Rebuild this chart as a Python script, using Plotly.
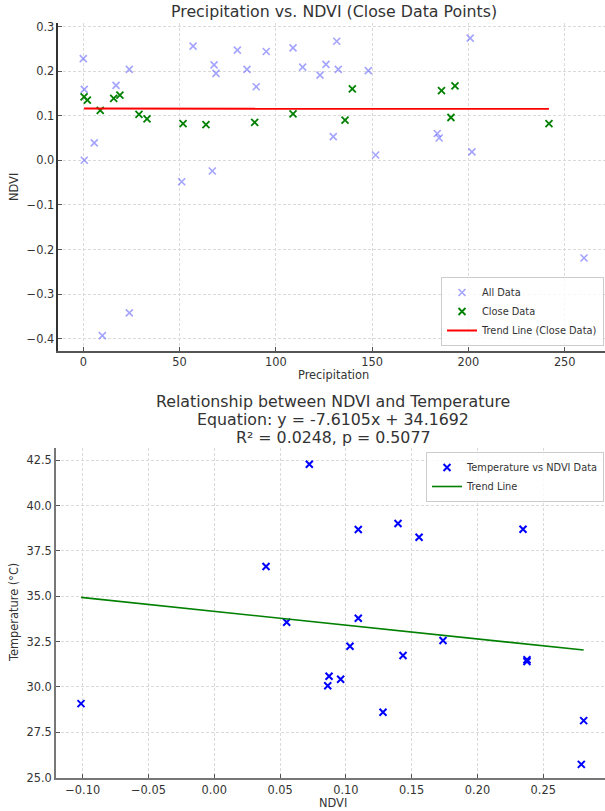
import numpy as np
import plotly.graph_objects as go

# ---------------- Data: top chart ----------------
all_precip = [0, 0.5, 0.5, 5.7, 17, 23.9, 51.1, 57, 67.9, 68.9, 67, 80, 85, 89.8, 95,
              108.9, 113.9, 122.9, 126, 131.6, 132.4, 129.8, 148, 151.8, 183.8, 184.8,
              200.9, 201.8, 260, 9.9, 23.9]
all_ndvi = [0.228, 0.159, 0.0, 0.039, 0.168, 0.204, -0.048, 0.256, 0.214, 0.195, -0.024,
            0.247, 0.204, 0.165, 0.244, 0.252, 0.209, 0.191, 0.215, 0.267, 0.204, 0.053,
            0.201, 0.012, 0.060, 0.050, 0.274, 0.019, -0.219, -0.393, -0.342]

close_precip = [0.4, 2.1, 8.8, 15.8, 19, 28.9, 33.1, 51.8, 63.7, 89, 108.9, 135.9, 139.7,
                186, 193, 190.9, 241.8]
close_ndvi = [0.142, 0.135, 0.112, 0.139, 0.146, 0.103, 0.093, 0.082, 0.080, 0.085, 0.104,
              0.090, 0.160, 0.156, 0.167, 0.096, 0.082]

close_trend = [-0.000002, 0.1160]  # slope, intercept

# ---------------- Data: bottom chart ----------------
ndvi_vals = [-0.1013, 0.0393, 0.055, 0.0722, 0.0862, 0.0872, 0.0960, 0.1031, 0.1094, 0.1094,
             0.1282, 0.1396, 0.1434, 0.1556, 0.1738, 0.2346, 0.2376, 0.2376, 0.2807, 0.2789]
temp_vals = [29.08, 36.64, 33.57, 42.28, 30.06, 30.59, 30.42, 32.24, 38.68, 33.79,
             28.60, 39.01, 31.73, 38.25, 32.56, 38.70, 31.50, 31.40, 28.14, 25.73]
temp_trend = [-7.6105, 34.1692]  # slope, intercept

title_lines = ["Relationship between NDVI and Temperature",
               "Equation: y = -7.6105x + 34.1692",
               "R² = 0.0248, p = 0.5077"]

W, H = 605, 811
FONT = "DejaVu Sans"
TXT = "#333333"


def px(x):
    return x / W


def py(y):
    return (H - y) / H


fig = go.Figure()

marker_x = dict(symbol="x-thin", size=7)

fig.add_trace(go.Scatter(
    x=all_precip, y=all_ndvi, mode="markers", name="All Data",
    marker=dict(**marker_x, color="rgba(0,0,255,0.5)",
                line=dict(width=1.6, color="rgba(90,90,255,0.55)")),
    xaxis="x", yaxis="y", legend="legend"))
fig.add_trace(go.Scatter(
    x=close_precip, y=close_ndvi, mode="markers", name="Close Data",
    marker=dict(**marker_x, color="green", line=dict(width=1.8, color="green")),
    xaxis="x", yaxis="y", legend="legend"))
tx = np.array([min(close_precip), max(close_precip)])
fig.add_trace(go.Scatter(
    x=tx, y=close_trend[0] * tx + close_trend[1], mode="lines",
    name="Trend Line (Close Data)", line=dict(color="red", width=2),
    xaxis="x", yaxis="y", legend="legend"))

fig.add_trace(go.Scatter(
    x=ndvi_vals, y=temp_vals, mode="markers", name="Temperature vs NDVI Data",
    marker=dict(**marker_x, color="blue", line=dict(width=2, color="blue")),
    xaxis="x2", yaxis="y2", legend="legend2"))
bx = np.array([min(ndvi_vals), max(ndvi_vals)])
fig.add_trace(go.Scatter(
    x=bx, y=temp_trend[0] * bx + temp_trend[1], mode="lines",
    name="Trend Line", line=dict(color="green", width=1.6),
    xaxis="x2", yaxis="y2", legend="legend2"))

axis_common = dict(
    showgrid=True, gridcolor="#dadada", gridwidth=0.7, griddash="3px,2px",
    zeroline=False, ticks="inside", ticklen=4, tickwidth=1, tickcolor="#555",
    tickfont=dict(family=FONT, size=11.4, color=TXT), automargin=False,
)

fig.update_layout(
    width=W, height=H, plot_bgcolor="white", paper_bgcolor="white",
    margin=dict(l=0, r=0, t=0, b=0),
    font=dict(family=FONT, color=TXT),
    xaxis=dict(**axis_common, domain=[px(58.3), 1], range=[-12.98, 270.9],
               tickvals=[0, 50, 100, 150, 200, 250], anchor="y",
               showline=True, linecolor="#555", linewidth=1.5, mirror=False),
    yaxis=dict(**axis_common, domain=[py(351), py(23.3)], range=[-0.4276, 0.3072],
               tickvals=[-0.4, -0.3, -0.2, -0.1, 0.0, 0.1, 0.2, 0.3], tickformat=".1f",
               anchor="x", showline=True, linecolor="#333", linewidth=1.5),
    xaxis2=dict(**axis_common, domain=[px(56), 1], range=[-0.1203, 0.2969],
                tickvals=[-0.10, -0.05, 0.0, 0.05, 0.10, 0.15, 0.20, 0.25], tickformat=".2f",
                anchor="y2", showline=True, linecolor="#777", linewidth=1.8),
    yaxis2=dict(**axis_common, domain=[py(778.3), py(448.3)], range=[24.96, 43.16],
                tickvals=[25.0, 27.5, 30.0, 32.5, 35.0, 37.5, 40.0, 42.5], tickformat=".1f",
                anchor="x2", showline=True, linecolor="#777", linewidth=1.8),
    legend=dict(x=px(604), y=py(346), xanchor="right", yanchor="bottom",
                bgcolor="rgba(255,255,255,0.8)", bordercolor="#cccccc", borderwidth=1,
                font=dict(family=FONT, size=9.8, color=TXT), tracegroupgap=0),
    legend2=dict(x=px(604), y=py(452), xanchor="right", yanchor="top",
                 bgcolor="rgba(255,255,255,0.8)", bordercolor="#cccccc", borderwidth=1,
                 font=dict(family=FONT, size=9.8, color=TXT), tracegroupgap=0),
    showlegend=True,
)

ann = [
    dict(text="Precipitation vs. NDVI (Close Data Points)", x=px(333.5), y=py(12), size=15.8),
    dict(text="Precipitation", x=px(333.5), y=py(375), size=11.4),
    dict(text="NDVI", x=px(14), y=py(187), textangle=-90, size=11.4),
    dict(text=title_lines[0], x=px(333), y=py(401.7), size=15.8),
    dict(text=title_lines[1], x=px(333), y=py(419.5), size=15.8),
    dict(text=title_lines[2], x=px(333), y=py(437.3), size=15.8),
    dict(text="NDVI", x=px(333), y=py(803), size=11.4),
    dict(text="Temperature (°C)", x=px(14), y=py(613), textangle=-90, size=11.4),
]
for a in ann:
    s = a.pop("size")
    fig.add_annotation(**a, xref="paper", yref="paper", showarrow=False,
                       xanchor="center", yanchor="middle",
                       font=dict(family=FONT, color=TXT, size=s))

fig.write_html(
    "out.html",
    config={"displayModeBar": False},
    post_script="document.body.style.margin='0';document.body.style.padding='0';"
                "document.body.style.overflow='hidden';",
)
